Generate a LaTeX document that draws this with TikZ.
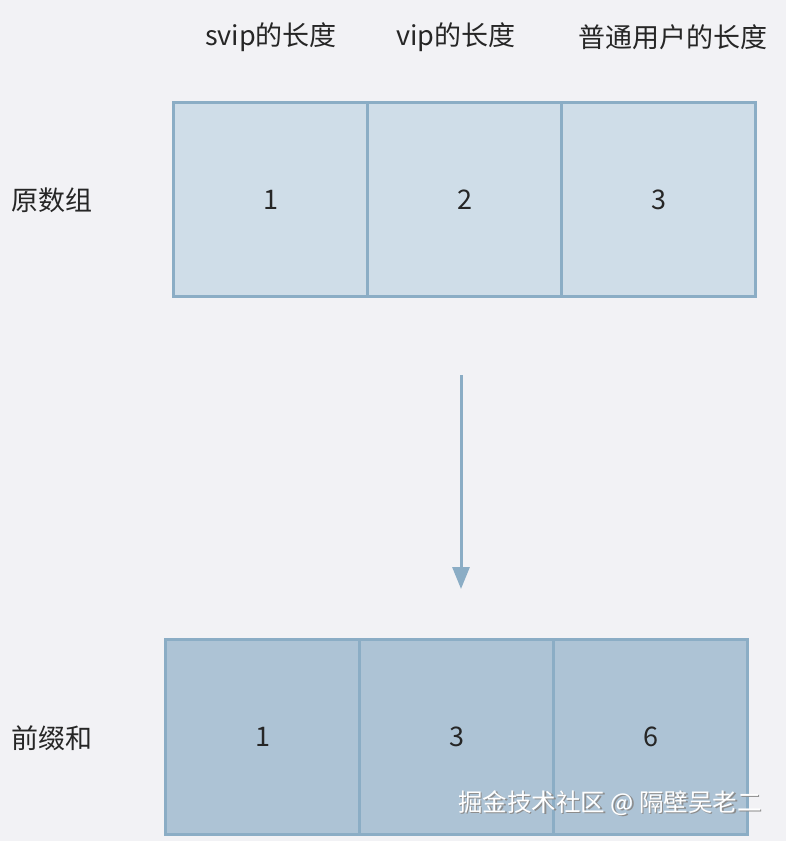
\documentclass[tikz,border=0pt]{standalone}
\usepackage{fontspec}
\setmainfont{Noto Sans CJK SC}
\usepackage{tikz}
\usetikzlibrary{arrows.meta, positioning}

\definecolor{fondgris}{HTML}{F2F2F5}
\definecolor{bordbleu}{HTML}{8BADC5}
\definecolor{cellclair}{HTML}{CFDDE8}
\definecolor{cellfonce}{HTML}{ADC3D5}
\definecolor{texte}{HTML}{262626}

\begin{document}
\begin{tikzpicture}[
  x=1pt, y=-1pt,
  cellhaut/.style={
    draw=bordbleu, fill=cellclair, line width=3pt,
    minimum width=194pt, minimum height=194pt, outer sep=0pt,
    font=\fontsize{27}{32}\selectfont, text=texte
  },
  cellbas/.style={
    cellhaut, fill=cellfonce, minimum height=195pt
  },
  entete/.style={
    font=\fontsize{27}{32}\selectfont, text=texte, inner sep=0pt
  },
  etiquette/.style={
    entete, anchor=west
  },
  fleche/.style={
    -{Triangle[length=22pt, width=17pt]},
    draw=bordbleu, line width=3pt
  },
  marque/.style={
    font=\fontsize{24.5}{29}\selectfont, inner sep=0pt, anchor=east
  }
]
\fill[fondgris] (0,0) rectangle (786,841);
\useasboundingbox (0,0) rectangle (786,841);

% ----- en-tetes -----
\node[entete] (hsvip)   at (271, 37) {svip的长度};
\node[entete] (hvip)    at (456, 37) {vip的长度};
\node[entete] (hnormal) at (673, 37) {普通用户的长度};

% ----- tableau d'origine -----
\node[cellhaut] (orig1) at (270.5, 199.5) {1};
\node[cellhaut, right=0pt of orig1] (orig2) {2};
\node[cellhaut, right=0pt of orig2] (orig3) {3};
\node[etiquette] (lorig) at (11, 200) {原数组};

% ----- fleche -----
\coordinate (flecheA) at (461, 375);
\coordinate (flecheB) at (461, 589);
\draw[fleche] (flecheA) -- (flecheB);

% ----- somme prefixe -----
\node[cellbas] (pref1) at (262.5, 736.5) {1};
\node[cellbas, right=0pt of pref1] (pref2) {3};
\node[cellbas, right=0pt of pref2] (pref3) {6};
\node[etiquette] (lpref) at (11, 738) {前缀和};

% ----- filigrane -----
\node[marque, text=black!45] (ombre) at (763.5, 804.5) {掘金技术社区 @ 隔壁吴老二};
\node[marque, text=white] (filigrane) at (762, 803) {掘金技术社区 @ 隔壁吴老二};

\end{tikzpicture}
\end{document}
